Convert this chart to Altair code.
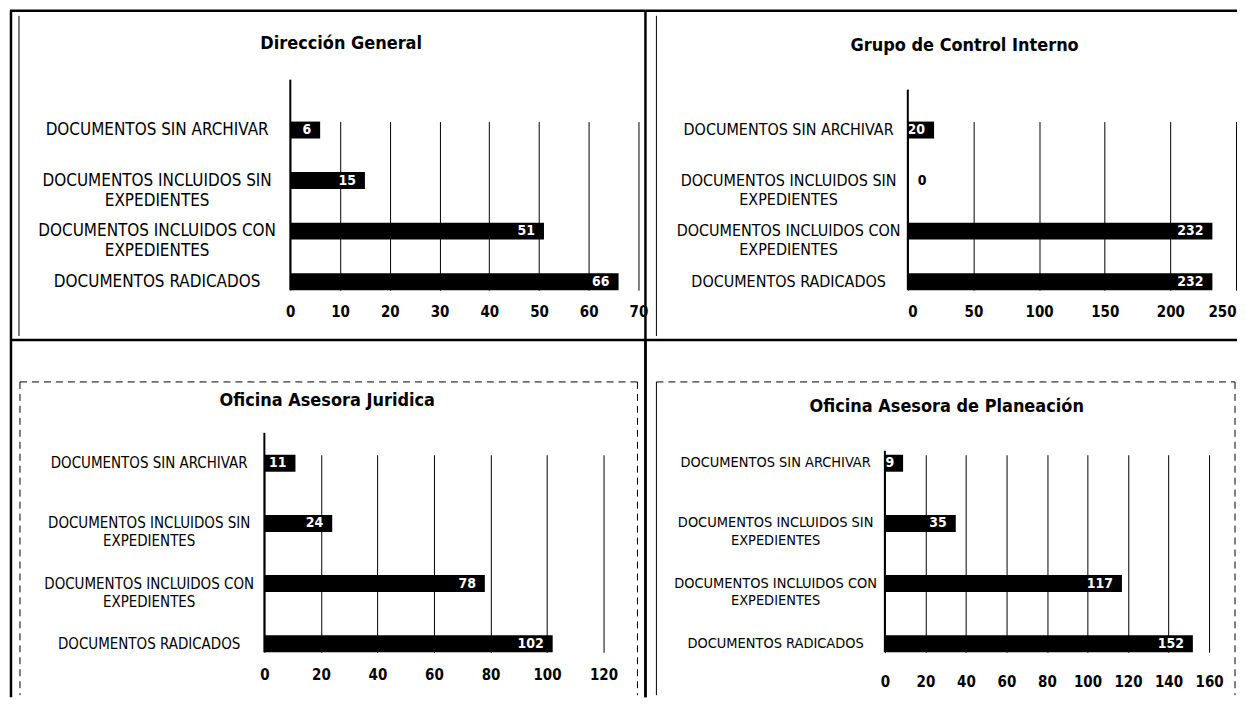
import altair as alt
import pandas as pd

# ---- data ----
categories = [
    "DOCUMENTOS SIN ARCHIVAR",
    "DOCUMENTOS INCLUIDOS SIN|EXPEDIENTES",
    "DOCUMENTOS INCLUIDOS CON|EXPEDIENTES",
    "DOCUMENTOS RADICADOS",
]
titles = [
    "Dirección General",
    "Grupo de Control Interno",
    "Oficina Asesora Juridica",
    "Oficina Asesora de Planeación",
]
direccion_general = [6, 15, 51, 66]
control_interno = [20, 0, 232, 232]
asesora_juridica = [11, 24, 78, 102]
asesora_planeacion = [9, 35, 117, 152]
x_max = [70, 250, 120, 160]
x_step = [10, 50, 20, 20]

FONT = "DejaVu Sans Condensed, Liberation Sans, sans-serif"
ONE = pd.DataFrame({"k": [0]})


def deco(x, y, x2, y2, ox, oy, w=1.0, dash=None):
    kw = dict(color="black", strokeWidth=w)
    if dash:
        kw["strokeDash"] = dash
    return alt.Chart(ONE).mark_rule(**kw).encode(
        x=alt.value(x - ox), x2=alt.value(x2 - ox),
        y=alt.value(y - oy), y2=alt.value(y2 - oy),
    )


def panel(values, title, xmax, step, width, height, r0, pinner, lab_font,
          lab_dist, tick_pad, title_xy, axis_top, origin, frames, flush=False):
    ox, oy = origin
    df = pd.DataFrame({"c": categories, "v": values})
    xs = alt.Scale(domain=[0, xmax], range=[r0, width], nice=False, zero=True)
    ys = alt.Scale(domain=categories, paddingInner=pinner, paddingOuter=0)
    x_axis = alt.Axis(
        values=list(range(0, xmax + 1, step)), grid=True, gridColor="black",
        gridWidth=1, gridOpacity=1, domain=False, ticks=False, tickSize=0,
        labelPadding=tick_pad, labelFont=FONT, labelFontSize=15,
        labelFontWeight="bold", labelColor="black", title=None,
        labelFlush=flush,
    )
    y_axis = alt.Axis(
        domain=False, ticks=False, tickSize=0, grid=False, title=None,
        labelExpr="split(datum.label, '|')", labelAlign="center",
        labelPadding=lab_dist - r0, labelFont=FONT, labelFontSize=lab_font,
        labelColor="black", labelLimit=500, labelLineHeight=lab_font * 1.2,
    )
    base = alt.Chart(df)
    bars = base.mark_bar(color="black").encode(
        x=alt.X("v:Q", scale=xs, axis=x_axis),
        y=alt.Y("c:N", scale=ys, axis=y_axis, sort=categories),
    )
    lab_in = base.transform_filter("datum.v > 0").mark_text(
        color="white", align="right", dx=-9, font=FONT, fontSize=14,
        fontWeight="bold", baseline="middle",
    ).encode(x="v:Q", y=alt.Y("c:N", sort=categories), text="v:Q")
    lab_zero = base.transform_filter("datum.v == 0").mark_text(
        color="black", align="left", dx=10, font=FONT, fontSize=14,
        fontWeight="bold", baseline="middle",
    ).encode(x="v:Q", y=alt.Y("c:N", sort=categories), text="v:Q")
    axis_line = alt.Chart(ONE).mark_rule(color="black", strokeWidth=2).encode(
        x=alt.datum(0), y=alt.value(axis_top - oy), y2=alt.value(height)
    )
    ttl = alt.Chart(ONE).mark_text(
        font=FONT, fontSize=18, fontWeight="bold", color="black",
        align="center", baseline="middle",
    ).encode(
        x=alt.value(title_xy[0] - ox), y=alt.value(title_xy[1] - oy),
        text=alt.value(title),
    )
    layers = [bars, lab_in, lab_zero, axis_line, ttl]
    for f in frames:
        layers.append(deco(*f[:4], ox, oy, *f[4:]))
    return alt.layer(*layers).properties(width=width, height=height)


O1 = (263, 120)
O2 = (885, 120)
O3 = (263, 454)
O4 = (885, 454)
TH = 2.5
DASH = [7, 5]

p1 = panel(direccion_general, titles[0], x_max[0], x_step[0], 375, 169, 26,
           0.665, 17, 134, 14, (340, 42), 78, O1,
           [(8, 9, 645, 9, TH), (9, 9, 9, 339, TH), (645, 9, 645, 339, TH),
            (8, 339, 645, 339, TH), (17, 14, 17, 335, 1)])
p2 = panel(control_interno, titles[1], x_max[1], x_step[1], 352, 169, 23,
           0.665, 16, 120, 14, (965, 44), 88, O2,
           [(645, 9, 1238, 9, TH), (645, 339, 1238, 339, TH),
            (656, 14, 656, 335, 1)], flush=True)
p3 = panel(asesora_juridica, titles[2], x_max[2], x_step[2], 340, 198, 0,
           0.718, 15, 116, 15, (326, 400), 432, O3,
           [(9, 339, 9, 697, TH), (645, 339, 645, 697, TH),
            (18, 381, 637, 381, 1, DASH), (18, 381, 18, 695, 1, DASH),
            (637, 381, 637, 695, 1, DASH)])
p4 = panel(asesora_planeacion, titles[3], x_max[3], x_step[3], 325, 198, 0,
           0.718, 14.5, 110, 22, (947, 406), 450, O4,
           [(645, 339, 645, 697, TH), (656, 381, 1236, 381, 1, DASH),
            (656, 381, 656, 695, 1), (1236, 381, 1236, 695, 1, DASH)])

chart = alt.concat(
    p1, p2, p3, p4, columns=2,
    spacing={"row": 165, "column": 247}, bounds="flush",
).properties(
    padding={"left": 0, "top": 0, "right": 0, "bottom": 0},
    background="white",
).configure_view(stroke="transparent", strokeWidth=0)

chart.save("out.html", embed_options={"renderer": "svg", "actions": False})
